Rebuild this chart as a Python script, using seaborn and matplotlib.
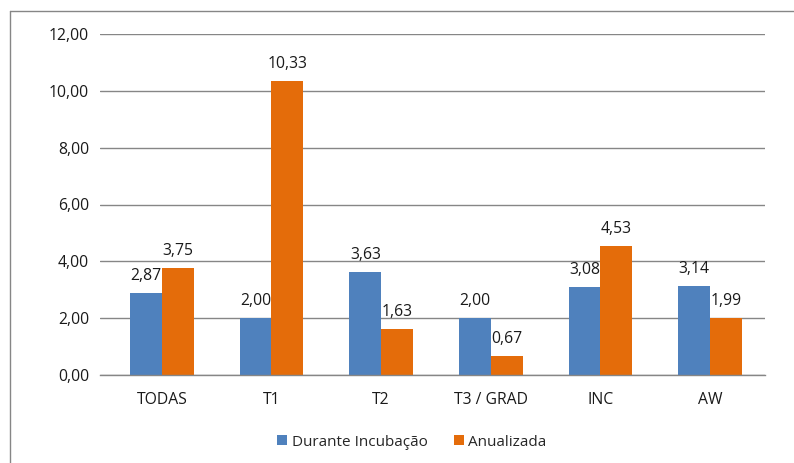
import matplotlib
matplotlib.use("Agg")
import matplotlib.pyplot as plt
from matplotlib.lines import Line2D
from matplotlib.patches import Patch
import seaborn as sns
import pandas as pd

categorias = ["TODAS", "T1", "T2", "T3 / GRAD", "INC", "AW"]
durante_incubacao = [2.87, 2.00, 3.63, 2.00, 3.08, 3.14]
anualizada = [3.75, 10.33, 1.63, 0.67, 4.53, 1.99]
series = ["Durante Incubação", "Anualizada"]
y_ticks = [0, 2, 4, 6, 8, 10, 12]

azul = "#4F81BD"
laranja = "#E46C0A"
cinza = "#868686"
texto = "#1a1a1a"
fs = 11.3

df = pd.DataFrame({
    "categoria": categorias * 2,
    "valor": durante_incubacao + anualizada,
    "serie": [series[0]] * len(categorias) + [series[1]] * len(categorias),
})

sns.set_theme(style="white")
plt.rcParams["font.family"] = ["Open Sans", "DejaVu Sans"]

W, H = 794, 463
fig = plt.figure(figsize=(W / 100, H / 100), dpi=100)
ax = fig.add_axes([100 / W, (H - 375) / H, (765 - 100) / W, (375 - 34) / H])

sns.barplot(data=df, x="categoria", y="valor", hue="serie", hue_order=series,
            order=categorias, palette=[azul, laranja], saturation=1,
            width=0.58, dodge=True, errorbar=None, legend=False, ax=ax)

def fmt(v):
    return f"{v:.2f}".replace(".", ",")

# blue labels sit under the orange bars, orange labels on top of everything
for i, cont in enumerate(ax.containers):
    for bar in cont:
        bar.set_zorder(2 + 2 * i)
        bar.set_linewidth(0)
    ax.bar_label(cont, labels=[fmt(b.get_height()) for b in cont], padding=6.5,
                 fontsize=fs, color=texto, zorder=3 + 2 * i)

ax.set_ylim(0, 12)
ax.set_xlim(-0.5 - 7 / 110, 5.5)
ax.set_yticks(y_ticks)
ax.set_yticklabels([fmt(v) for v in y_ticks], fontsize=fs, color=texto)
ax.tick_params(axis="y", length=0, pad=8)
ax.tick_params(axis="x", which="major", length=0, pad=12, labelsize=fs,
               labelcolor=texto)
ax.set_xticks([k + 0.5 for k in range(len(categorias))], minor=True)
ax.tick_params(axis="x", which="minor", length=5, color=cinza, width=1)
ax.set_xlabel("")
ax.set_ylabel("")

ax.grid(axis="y", color=cinza, linewidth=1)
ax.set_axisbelow(True)
for s in ["top", "right", "left"]:
    ax.spines[s].set_visible(False)
ax.spines["bottom"].set_color(cinza)
ax.spines["bottom"].set_linewidth(1)
ax.spines["bottom"].set_zorder(6)

handles = [Patch(facecolor=azul, edgecolor="none"),
           Patch(facecolor=laranja, edgecolor="none")]
fig.legend(handles, series, loc="center", bbox_to_anchor=(412 / W, 1 - 442 / H),
           ncol=2, frameon=False, fontsize=11, handlelength=0.65,
           handleheight=0.65, handletextpad=0.3, columnspacing=1.7)

# chart frame
fig.add_artist(Line2D([10 / W, 1], [1 - 11 / H, 1 - 11 / H], color=cinza, lw=1))
fig.add_artist(Line2D([10 / W, 10 / W], [0, 1 - 11 / H], color=cinza, lw=1))

fig.savefig("out.png", dpi=100, facecolor="white")
